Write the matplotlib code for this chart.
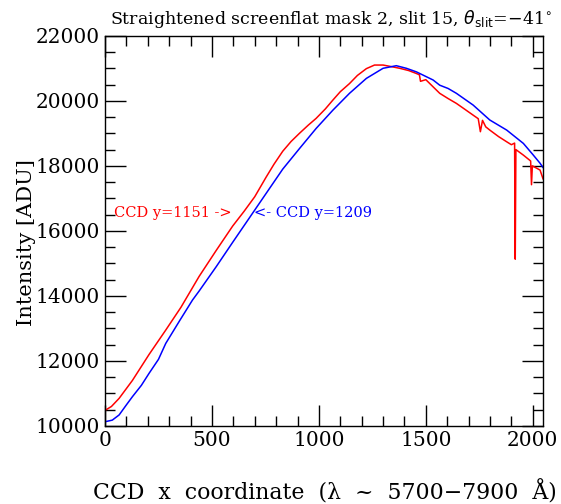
import matplotlib
matplotlib.use('Agg')

import matplotlib.pyplot as plt
from matplotlib.ticker import MultipleLocator

# Red curve: CCD row y=1151
redX = [0, 30, 66, 128, 206, 284, 355, 440, 520, 597, 650, 700, 753, 790, 831,
        870, 909, 950, 987, 1030, 1065, 1100, 1143, 1180, 1222, 1260, 1300,
        1340, 1378, 1420, 1456, 1470, 1475, 1500, 1534, 1565, 1604, 1643,
        1680, 1721, 1745, 1755, 1765, 1780, 1799, 1840, 1878, 1900, 1915, 1918,
        1921, 1956, 1990, 1994, 1998, 2034, 2048]
redY = [10480, 10600, 10850, 11400, 12200, 12950, 13650, 14600, 15400, 16150,
        16600, 17050, 17650, 18050, 18450, 18750, 19000, 19250, 19460, 19750,
        20020, 20280, 20530, 20780, 20990, 21100, 21100, 21050, 21000, 20930,
        20840, 20800, 20600, 20650, 20430, 20230, 20070, 19920, 19750, 19560,
        19450, 19050, 19400, 19200, 19100, 18900, 18740, 18650, 18700, 15130,
        18500, 18330, 18150, 17420, 18000, 17870, 17600]

# Blue curve: CCD row y=1209
blueX = [0, 34, 66, 100, 128, 170, 206, 250, 284, 350, 409, 440, 520, 597,
         675, 753, 831, 909, 987, 1065, 1143, 1222, 1300, 1362, 1409, 1456,
         1534, 1565, 1604, 1643, 1721, 1799, 1878, 1956, 2000, 2034, 2048]
blueY = [10130, 10180, 10340, 10650, 10900, 11250, 11620, 12050, 12540, 13250,
         13873, 14150, 14900, 15650, 16400, 17150, 17900, 18530, 19150, 19710,
         20230, 20690, 21000, 21080, 21000, 20890, 20640, 20480, 20380, 20230,
         19870, 19410, 19100, 18690, 18350, 18080, 17950]

plt.rcParams['font.family'] = 'DejaVu Serif'

fig = plt.figure(figsize=(5.61, 5.04), dpi=100)
ax = fig.add_axes([0.1872, 0.1548, 0.7808, 0.7742])

ax.plot(redX, redY, color='#ff0000', lw=1.1)
ax.plot(blueX, blueY, color='#0000ff', lw=1.1)

ax.set_xlim(0, 2048)
ax.set_ylim(10000, 22000)
ax.xaxis.set_major_locator(MultipleLocator(500))
ax.xaxis.set_minor_locator(MultipleLocator(100))
ax.yaxis.set_major_locator(MultipleLocator(2000))
ax.yaxis.set_minor_locator(MultipleLocator(500))
ax.tick_params(which='both', direction='in', top=True, right=True,
               labelsize=14.5, color='black', width=1)
ax.tick_params(which='major', length=15)
ax.tick_params(which='minor', length=7)
for s in ax.spines.values():
    s.set_linewidth(1)

ax.text(590, 16550, 'CCD y=1151 ->', color='#ff0000', fontsize=10.5,
        ha='right', va='center')
ax.text(698, 16550, '<- CCD y=1209', color='#0000ff', fontsize=10.5,
        ha='left', va='center')

fig.text(0.59, 0.962, r'Straightened screenflat mask 2, slit 15, $\theta_{\rm slit}$=$-$41$^{\circ}$',
         ha='center', va='center', fontsize=12.5)
fig.text(0.166, 0.024, 'CCD  x  coordinate  (λ  ~  5700−7900  Å)', ha='left',
         va='center', fontsize=15.8)
fig.text(0.048, 0.518, 'Intensity [ADU]', rotation=90, ha='center',
         va='center', fontsize=15)

plt.savefig('out.png', dpi=100)
